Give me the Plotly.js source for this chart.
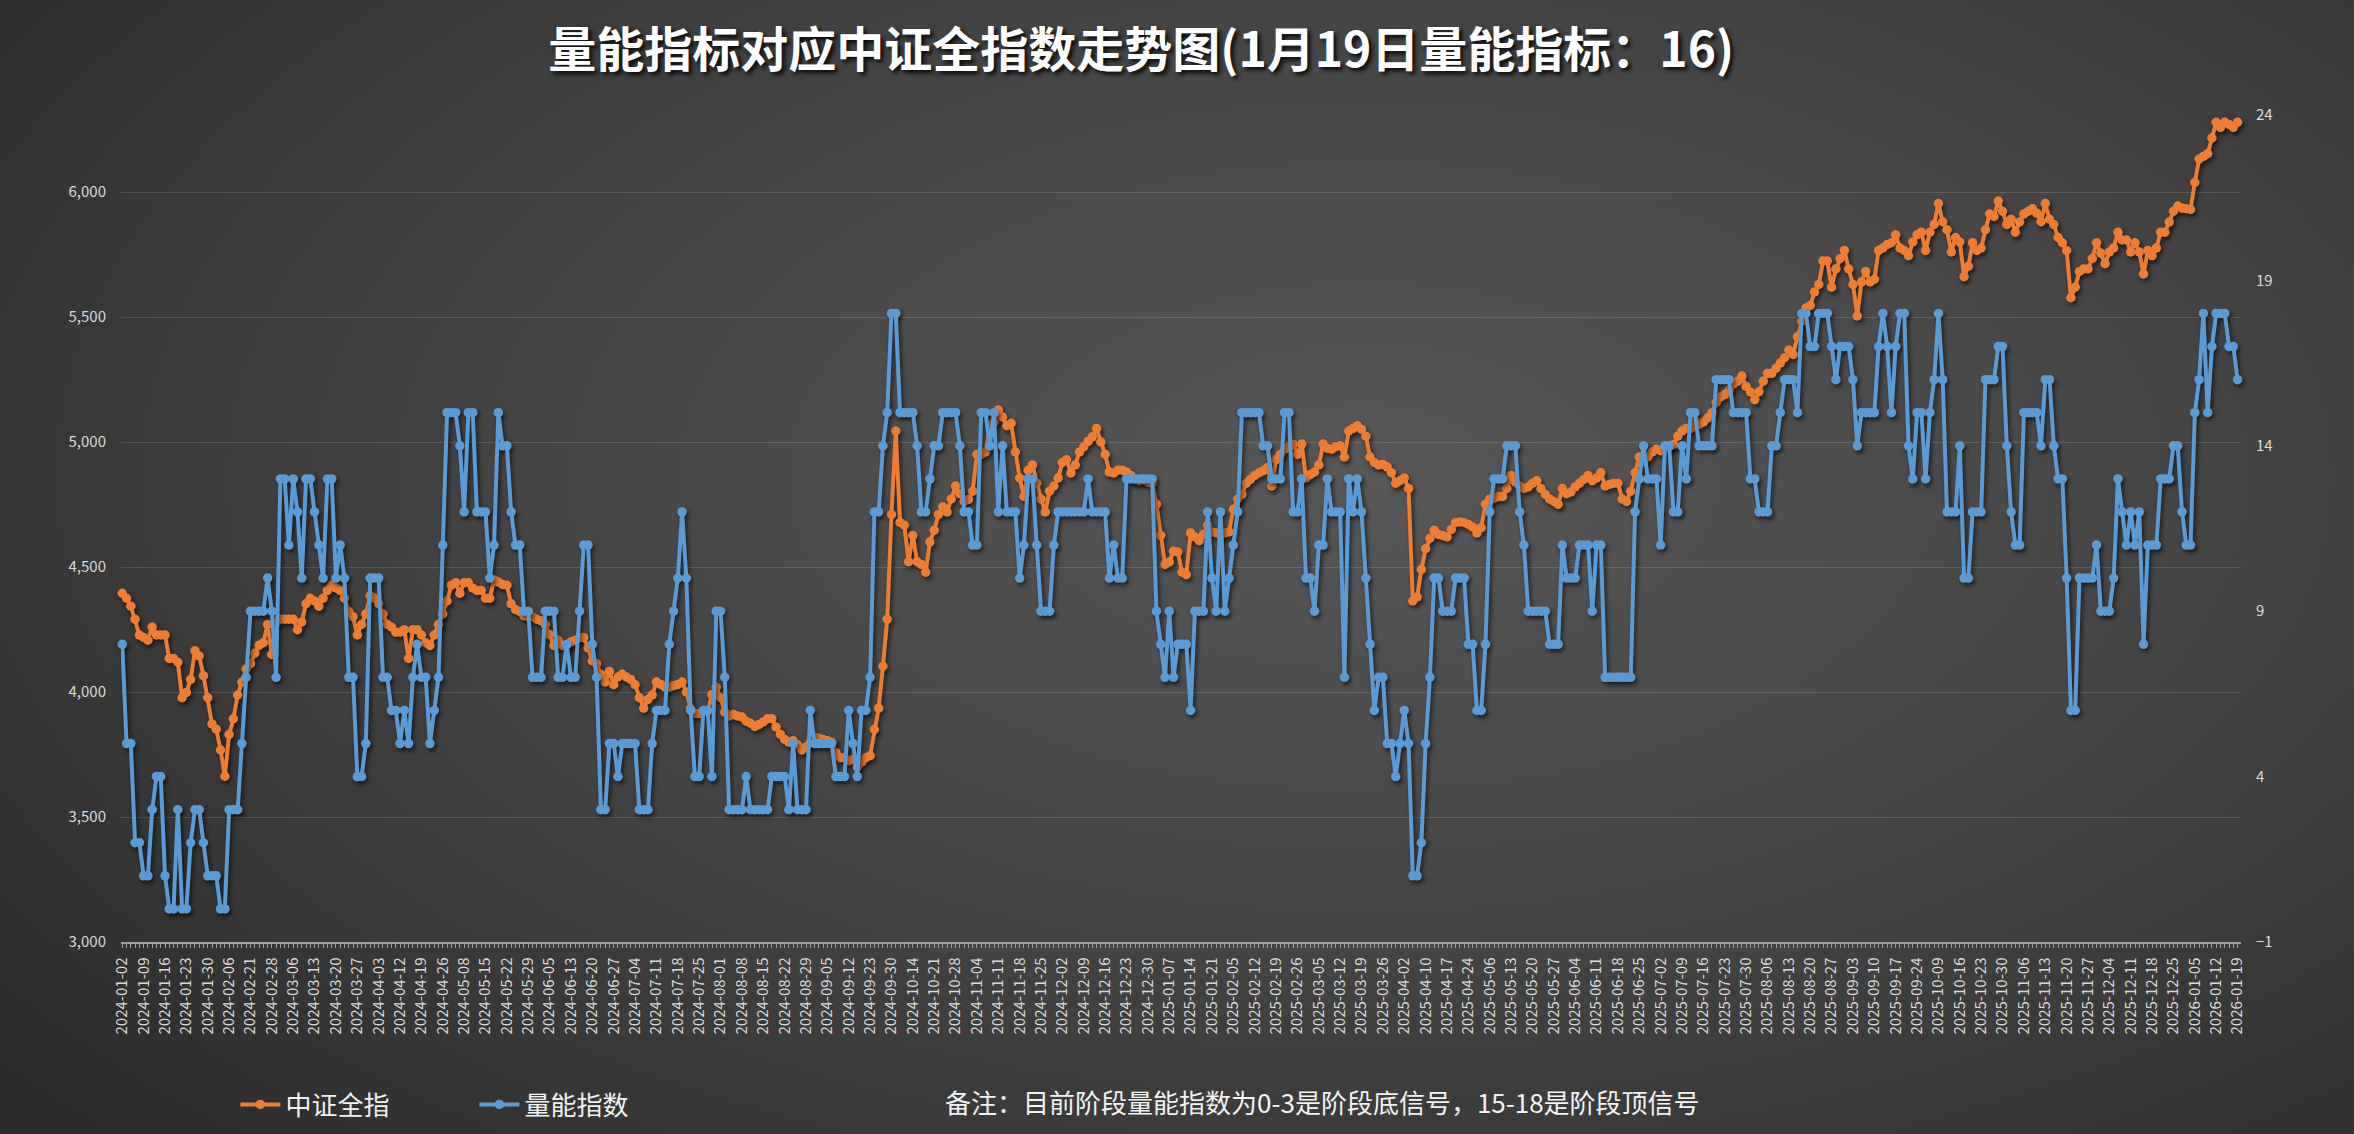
<!DOCTYPE html>
<html>
<head>
<meta charset="utf-8">
<script src="https://cdn.plot.ly/plotly-3.0.1.min.js"></script>
<style>
  html, body { margin: 0; padding: 0; }
  body {
    width: 2354px; height: 1134px; overflow: hidden;
    background: radial-gradient(ellipse 75% 85% at 58% 42%, #575757 0%, #464646 45%, #2b2b2b 100%);
  }
  #chart { width: 2354px; height: 1134px; }
  /* excel-like soft shadow under the series */
  #chart .scatterlayer .trace { filter: drop-shadow(2px 3px 2px rgba(0,0,0,0.6)); }
</style>
</head>
<body>
<div id="chart"></div>
<script>
// trading calendar: weekdays between the two dates minus exchange holidays
var firstDay = "2024-01-02";
var lastDay = "2026-01-19";
var holidays = [
    "2024-01-01", "2024-02-09", "2024-02-12", "2024-02-13", "2024-02-14", "2024-02-15", "2024-02-16",
    "2024-04-04", "2024-04-05", "2024-05-01", "2024-05-02", "2024-05-03", "2024-06-10",
    "2024-09-16", "2024-09-17", "2024-10-01", "2024-10-02", "2024-10-03", "2024-10-04", "2024-10-07",
    "2025-01-01", "2025-01-28", "2025-01-29", "2025-01-30", "2025-01-31", "2025-02-03", "2025-02-04",
    "2025-04-04", "2025-05-01", "2025-05-02", "2025-05-05", "2025-06-02",
    "2025-10-01", "2025-10-02", "2025-10-03", "2025-10-06", "2025-10-07", "2025-10-08",
    "2026-01-01", "2026-01-02"
];
var labelStep = 5;   // one date label every 5 trading days

// 中证全指 (left axis)
var csiAll = [
    4395,4375,4343,4291,4228,4218,4207,4260,4228,4228,
    4228,4134,4134,4119,3977,3998,4050,4165,4144,4065,
    3977,3872,3851,3768,3663,3830,3893,3988,4040,4092,
    4113,4155,4186,4197,4270,4150,4280,4291,4291,4291,
    4291,4249,4280,4353,4375,4364,4343,4375,4406,4427,
    4416,4406,4375,4322,4301,4228,4270,4312,4385,4375,
    4353,4312,4270,4260,4239,4239,4249,4134,4249,4249,
    4228,4197,4186,4228,4270,4312,4364,4427,4437,4395,
    4437,4437,4416,4406,4406,4375,4375,4448,4440,4430,
    4427,4353,4330,4322,4305,4301,4301,4291,4285,4270,
    4230,4186,4207,4186,4186,4200,4207,4217,4217,4176,
    4124,4113,4070,4040,4082,4029,4060,4071,4060,4050,
    4029,3977,3935,3970,3988,4040,4030,4019,4019,4025,
    4030,4040,4000,3935,3914,3914,3920,3920,3990,4019,
    3977,3920,3904,3910,3904,3900,3883,3875,3862,3870,
    3880,3893,3893,3860,3831,3810,3799,3805,3789,3768,
    3780,3799,3820,3815,3810,3805,3799,3758,3737,3737,
    3725,3730,3700,3720,3737,3745,3850,3935,4103,4291,
    4710,5044,4678,4667,4521,4626,4521,4510,4479,4600,
    4647,4710,4741,4720,4772,4824,4793,4762,4770,4803,
    4950,4950,4960,5065,5080,5128,5100,5065,5075,4960,
    4856,4782,4887,4908,4835,4772,4720,4803,4824,4856,
    4918,4929,4876,4908,4960,4981,5002,5020,5054,5000,
    4950,4880,4876,4887,4887,4880,4866,4850,4845,4850,
    4840,4835,4751,4626,4510,4520,4563,4560,4479,4469,
    4636,4620,4605,4630,4667,4640,4636,4630,4636,4640,
    4730,4772,4790,4835,4850,4866,4877,4885,4898,4824,
    4929,4950,4971,4981,4990,4950,4992,4856,4870,4880,
    4908,4992,4975,4971,4981,4985,4940,5044,5054,5065,
    5050,5023,4940,4918,4908,4910,4900,4877,4835,4845,
    4856,4814,4364,4380,4490,4573,4615,4647,4630,4626,
    4620,4650,4678,4680,4678,4670,4660,4636,4657,4751,
    4772,4775,4782,4782,4814,4866,4840,4824,4814,4820,
    4835,4845,4814,4790,4772,4762,4751,4814,4793,4800,
    4820,4835,4850,4866,4845,4856,4877,4824,4830,4835,
    4835,4772,4762,4803,4877,4940,4918,4940,4960,4971,
    4965,4975,4981,4990,5023,5044,5054,5054,5086,5070,
    5080,5096,5117,5159,5180,5190,5210,5232,5243,5264,
    5222,5200,5169,5201,5243,5274,5274,5295,5316,5337,
    5368,5350,5421,5483,5536,5546,5600,5630,5724,5724,
    5619,5692,5734,5766,5692,5630,5504,5640,5682,5640,
    5651,5766,5776,5790,5797,5829,5776,5766,5745,5800,
    5829,5839,5766,5839,5870,5954,5881,5849,5760,5818,
    5800,5661,5703,5797,5766,5776,5849,5912,5902,5964,
    5923,5870,5891,5839,5880,5912,5923,5933,5915,5881,
    5954,5891,5870,5818,5797,5766,5577,5619,5682,5692,
    5692,5734,5797,5755,5713,5760,5776,5839,5808,5808,
    5760,5797,5760,5672,5766,5745,5776,5839,5839,5880,
    5923,5944,5935,5933,5930,6038,6132,6142,6153,6216,
    6279,6258,6279,6270,6258,6279
];

// 量能指数 (right axis)
var volIndex = [
    8,5,5,2,2,1,1,3,4,4,
    1,0,0,3,0,0,2,3,3,2,
    1,1,1,0,0,3,3,3,5,7,
    9,9,9,9,10,9,7,13,13,11,
    13,12,10,13,13,12,11,10,13,13,
    10,11,10,7,7,4,4,5,10,10,
    10,7,7,6,6,5,6,5,7,8,
    7,7,5,6,7,11,15,15,15,14,
    12,15,15,12,12,12,10,11,15,14,
    14,12,11,11,9,9,7,7,7,9,
    9,9,7,7,8,7,7,9,11,11,
    8,7,3,3,5,5,4,5,5,5,
    5,3,3,3,5,6,6,6,8,9,
    10,12,10,6,4,4,6,6,4,9,
    9,7,3,3,3,3,4,3,3,3,
    3,3,4,4,4,4,3,5,3,3,
    3,6,5,5,5,5,5,4,4,4,
    6,5,4,6,6,7,12,12,14,15,
    18,18,15,15,15,15,14,12,12,13,
    14,14,15,15,15,15,14,12,12,11,
    11,15,15,14,15,12,14,12,12,12,
    10,11,13,13,11,9,9,9,11,12,
    12,12,12,12,12,12,13,12,12,12,
    12,10,11,10,10,13,13,13,13,13,
    13,13,9,8,7,9,7,8,8,8,
    6,9,9,9,12,10,9,12,9,10,
    11,12,15,15,15,15,15,14,14,13,
    13,13,15,15,12,12,13,10,10,9,
    11,11,13,12,12,12,7,13,12,13,
    12,10,8,6,7,7,5,5,4,5,
    6,5,1,1,2,5,7,10,10,9,
    9,9,10,10,10,8,8,6,6,8,
    12,13,13,13,14,14,14,12,11,9,
    9,9,9,9,8,8,8,11,10,10,
    10,11,11,11,9,11,11,7,7,7,
    7,7,7,7,12,13,14,13,13,13,
    11,14,14,12,12,14,13,15,15,14,
    14,14,14,16,16,16,16,15,15,15,
    15,13,13,12,12,12,14,14,15,16,
    16,16,15,18,18,17,17,18,18,18,
    17,16,17,17,17,16,14,15,15,15,
    15,17,18,17,15,17,18,18,14,13,
    15,15,13,15,16,18,16,12,12,12,
    14,10,10,12,12,12,16,16,16,17,
    17,14,12,11,11,15,15,15,15,14,
    16,16,14,13,13,10,6,6,10,10,
    10,10,11,9,9,9,10,13,12,11,
    12,11,12,8,11,11,11,13,13,13,
    14,14,12,11,11,15,16,18,15,17,
    18,18,18,17,17,16
];

var titleText = "量能指标对应中证全指数走势图(1月19日量能指标：16)";
var noteText = "备注：目前阶段量能指数为0-3是阶段底信号，15-18是阶段顶信号";

function tradingDays(from, to, closed) {
    var out = [];
    var d = new Date(from + "T00:00:00Z");
    var end = new Date(to + "T00:00:00Z");
    while (d <= end) {
        var wd = d.getUTCDay();
        var s = d.toISOString().slice(0, 10);
        if (wd != 0 && wd != 6 && closed.indexOf(s) < 0) out.push(s);
        d.setUTCDate(d.getUTCDate() + 1);
    }
    return out;
}

var dates = tradingDays(firstDay, lastDay, holidays);
// a tick mark on every day, a label on every 5th
var tickText = dates.map(function (s, i) { return i % labelStep == 0 ? s : ""; });

var font = "Noto Sans CJK SC, Noto Sans, sans-serif";
var axisText = {family: font, size: 15, color: "#d9d9d9"};

var traces = [
    {
        x: dates, y: csiAll, name: "中证全指", yaxis: "y",
        type: "scatter", mode: "lines+markers", cliponaxis: false,
        line: {color: "#ED7D31", width: 4},
        marker: {color: "#ED7D31", size: 9.5},
    },
    {
        x: dates, y: volIndex, name: "量能指数", yaxis: "y2",
        type: "scatter", mode: "lines+markers", cliponaxis: false,
        line: {color: "#5B9BD5", width: 4},
        marker: {color: "#5B9BD5", size: 9.5},
    }
];

var layout = {
    width: 2354, height: 1134,
    paper_bgcolor: "rgba(0,0,0,0)",
    plot_bgcolor: "rgba(0,0,0,0)",
    margin: {l: 121, r: 113, t: 115, b: 192},
    hovermode: false,
    showlegend: true,
    title: {
        text: "<b>" + titleText + "</b>",
        xref: "container", yref: "container",
        x: 0.4848, y: 0.956, xanchor: "center", yanchor: "middle",
        font: {family: font, size: 48, color: "#ffffff",
               shadow: "3px 3px 4px rgba(0,0,0,0.85)"},
    },
    xaxis: {
        type: "category",
        range: [-0.3, dates.length - 0.2],
        tickmode: "array", tickvals: dates, ticktext: tickText,
        tickangle: -90,
        tickfont: axisText,
        ticks: "outside", ticklen: 4, tickwidth: 1, tickcolor: "#a0a0a0",
        showline: true, linecolor: "#a0a0a0", linewidth: 1.5,
        showgrid: false, zeroline: false,
        ticklabelstandoff: 4,
    },
    yaxis: {
        range: [3000, 6308],
        tickmode: "linear", tick0: 3000, dtick: 500,
        tickformat: ",d",
        tickfont: axisText,
        showgrid: true, gridcolor: "rgba(255,255,255,0.13)", gridwidth: 1,
        zeroline: false, showline: false, ticks: "",
        ticklabelstandoff: 14,
    },
    yaxis2: {
        overlaying: "y", side: "right",
        range: [-1, 24],
        tickmode: "linear", tick0: -1, dtick: 5,
        tickfont: axisText,
        showgrid: false, zeroline: false, showline: false, ticks: "",
        ticklabelstandoff: 14,
    },
    legend: {
        orientation: "h",
        xref: "container", yref: "container",
        x: 0.1, y: 0.026, xanchor: "left", yanchor: "middle",
        entrywidth: 184, entrywidthmode: "pixels",
        itemwidth: 40,
        font: {family: font, size: 26, color: "#f2f2f2"},
        bgcolor: "rgba(0,0,0,0)",
    },
    annotations: [{
        text: noteText, showarrow: false,
        xref: "paper", yref: "paper",
        x: (943 - 121) / 2120, y: -(1101 - 942) / 827,
        xanchor: "left", yanchor: "middle",
        font: {family: font, size: 26, color: "#f2f2f2"},
    }],
};

Plotly.newPlot("chart", traces, layout, {displayModeBar: false, staticPlot: true});
</script>
</body>
</html>
